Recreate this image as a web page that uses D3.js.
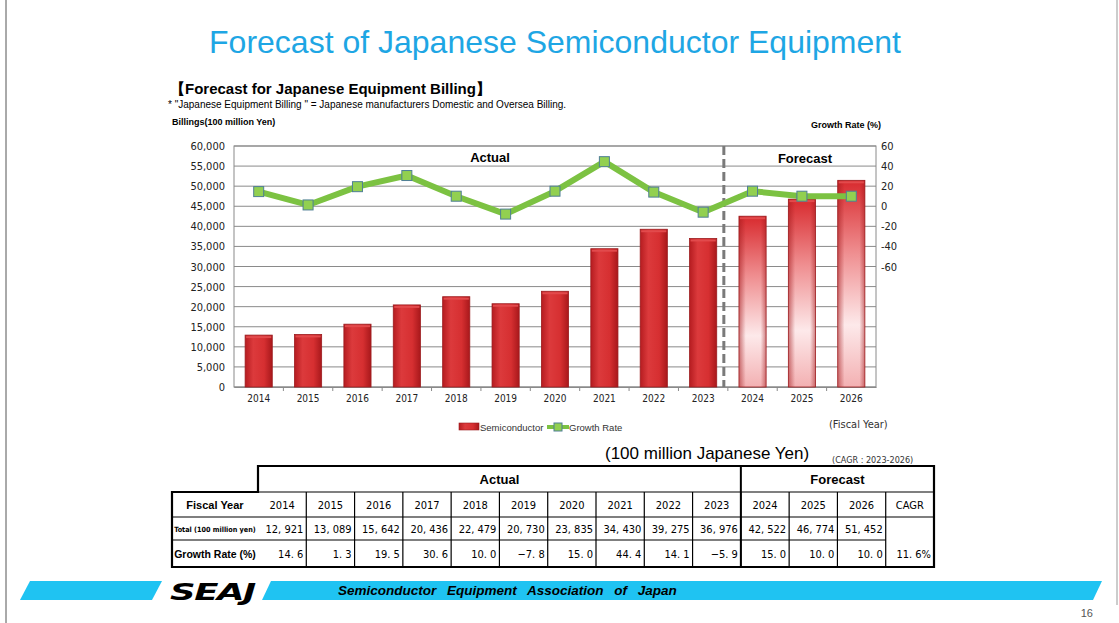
<!DOCTYPE html>
<html>
<head>
<meta charset="utf-8">
<script src="https://cdnjs.cloudflare.com/ajax/libs/d3/7.8.5/d3.min.js"></script>
<style>
  body { margin: 0; background: #fff; }
  svg { display: block; font-family: 'Liberation Sans', Arial, sans-serif; }
  .narrow { font-family: 'Liberation Sans Narrow', 'DejaVu Sans Condensed', 'Liberation Sans', sans-serif; }
</style>
</head>
<body>
<div id="chart"></div>
<script>
// data
var years = ['2014', '2015', '2016', '2017', '2018', '2019', '2020', '2021', '2022', '2023', '2024', '2025', '2026']
var billing = [12921, 13089, 15642, 20436, 22479, 20730, 23835, 34430, 39275, 36976, 42522, 46774, 51452]
var growth = [14.6, 1.3, 19.5, 30.6, 10.0, -7.8, 15.0, 44.4, 14.1, -5.9, 15.0, 10.0, 10.0]
var firstForecast = '2024'
var cagr = 11.6
var leftTicks = [0, 5000, 10000, 15000, 20000, 25000, 30000, 35000, 40000, 45000, 50000, 55000, 60000]
var rightTicks = [-60, -40, -20, 0, 20, 40, 60]

var W = 1119, H = 623
var plot = { left: 234, right: 876, top: 146, bottom: 387 }

var svg = d3.select('#chart').append('svg')
    .attr('width', W)
    .attr('height', H)

// gradients
var defs = svg.append('defs')
var gActual = defs.append('linearGradient').attr('id', 'gActual')
    .attr('x1', 0).attr('x2', 1).attr('y1', 0).attr('y2', 0)
gActual.append('stop').attr('offset', '0%').attr('stop-color', '#b51c20')
gActual.append('stop').attr('offset', '30%').attr('stop-color', '#dc3a3c')
gActual.append('stop').attr('offset', '70%').attr('stop-color', '#d62f31')
gActual.append('stop').attr('offset', '100%').attr('stop-color', '#a8181b')

var gFore = defs.append('linearGradient').attr('id', 'gFore')
    .attr('x1', 0).attr('x2', 0).attr('y1', 0).attr('y2', 1)
gFore.append('stop').attr('offset', '0%').attr('stop-color', '#d82a2e')
gFore.append('stop').attr('offset', '35%').attr('stop-color', '#ef8e90')
gFore.append('stop').attr('offset', '70%').attr('stop-color', '#fde9ea')
gFore.append('stop').attr('offset', '100%').attr('stop-color', '#f3b0b2')

var gEdge = defs.append('linearGradient').attr('id', 'gEdge')
    .attr('x1', 0).attr('x2', 1).attr('y1', 0).attr('y2', 0)
gEdge.append('stop').attr('offset', '0%').attr('stop-color', '#a0181b').attr('stop-opacity', 0.55)
gEdge.append('stop').attr('offset', '25%').attr('stop-color', '#a0181b').attr('stop-opacity', 0)
gEdge.append('stop').attr('offset', '80%').attr('stop-color', '#a0181b').attr('stop-opacity', 0)
gEdge.append('stop').attr('offset', '100%').attr('stop-color', '#a0181b').attr('stop-opacity', 0.5)

// page frame lines
svg.append('line').attr('x1', 6).attr('x2', 6).attr('y1', 0).attr('y2', H)
    .attr('stroke', '#555').attr('stroke-width', 1)
svg.append('line').attr('x1', 1117).attr('x2', 1117).attr('y1', 0).attr('y2', 605)
    .attr('stroke', '#999').attr('stroke-width', 1)

// title
svg.append('text')
    .attr('x', 555).attr('y', 53)
    .attr('text-anchor', 'middle')
    .attr('font-size', 32)
    .attr('fill', '#1ea6e4')
    .text('Forecast of Japanese Semiconductor Equipment')

svg.append('text')
    .attr('x', 170).attr('y', 94)
    .attr('font-size', 15).attr('font-weight', 'bold')
    .text('【Forecast for Japanese Equipment Billing】')

svg.append('text')
    .attr('x', 168).attr('y', 108)
    .attr('font-size', 10)
    .text('* "Japanese Equipment Billing " = Japanese manufacturers Domestic and Oversea Billing.')

svg.append('text')
    .attr('x', 172).attr('y', 125)
    .attr('font-size', 9).attr('font-weight', 'bold')
    .text('Billings(100 million Yen)')

svg.append('text')
    .attr('x', 881).attr('y', 128)
    .attr('text-anchor', 'end')
    .attr('font-size', 9).attr('font-weight', 'bold')
    .text('Growth Rate (%)')

// scales
var x = d3.scaleBand().domain(years)
    .range([plot.left, plot.right])
    .paddingInner(0.45).paddingOuter(0.225)
var y = d3.scaleLinear().domain([0, 60000]).range([plot.bottom, plot.top])
var y2 = d3.scaleLinear().domain([-180, 60]).range([plot.bottom, plot.top])

// gridlines
svg.append('g')
    .selectAll('line')
    .data(leftTicks)
    .enter().append('line')
    .attr('x1', plot.left).attr('x2', plot.right)
    .attr('y1', d => y(d)).attr('y2', d => y(d))
    .attr('stroke', '#8a8a8a').attr('stroke-width', 1)

svg.append('rect')
    .attr('x', plot.left).attr('y', plot.top)
    .attr('width', plot.right - plot.left).attr('height', plot.bottom - plot.top)
    .attr('fill', 'none').attr('stroke', '#8a8a8a')

// left axis
var axL = svg.append('g')
    .attr('transform', `translate(${plot.left}, 0)`)
    .call(d3.axisLeft(y).tickValues(leftTicks).tickSize(0).tickPadding(9).tickFormat(d3.format(',')))
axL.select('.domain').remove()
axL.selectAll('text').attr('font-size', 11).attr('fill', '#222')
    .attr('font-family', "'DejaVu Sans Condensed', 'Liberation Sans', sans-serif")

// right axis
var axR = svg.append('g')
    .attr('transform', `translate(${plot.right}, 0)`)
    .call(d3.axisRight(y2).tickValues(rightTicks).tickSize(0).tickPadding(5).tickFormat(d => String(d)))
axR.select('.domain').remove()
axR.selectAll('text').attr('font-size', 11).attr('fill', '#222')
    .attr('font-family', "'DejaVu Sans Condensed', 'Liberation Sans', sans-serif")

// bottom axis with category ticks
var axB = svg.append('g')
    .attr('transform', `translate(0, ${plot.bottom})`)
    .call(d3.axisBottom(x).tickSize(0).tickPadding(8))
axB.select('.domain').attr('stroke', '#8a8a8a')
axB.selectAll('text').attr('font-size', 10).attr('fill', '#222').attr('class', 'narrow')
svg.append('g')
    .selectAll('line')
    .data(years.slice(1))
    .enter().append('line')
    .attr('x1', d => x(d) - x.step() * x.paddingInner() / 2)
    .attr('x2', d => x(d) - x.step() * x.paddingInner() / 2)
    .attr('y1', plot.bottom).attr('y2', plot.bottom + 4)
    .attr('stroke', '#8a8a8a')

// bars
var isFore = d => years.indexOf(d) >= years.indexOf(firstForecast)
var bars = svg.append('g')
bars.selectAll('rect.bar')
    .data(years)
    .enter().append('rect')
    .attr('class', 'bar')
    .attr('x', d => x(d))
    .attr('y', (d, i) => y(billing[i]))
    .attr('width', x.bandwidth())
    .attr('height', (d, i) => y(0) - y(billing[i]))
    .attr('fill', d => isFore(d) ? 'url(#gFore)' : 'url(#gActual)')
    .attr('stroke', '#9c1c1f').attr('stroke-width', 0.8)
bars.selectAll('rect.edge')
    .data(years.filter(isFore))
    .enter().append('rect')
    .attr('class', 'edge')
    .attr('x', d => x(d))
    .attr('y', d => y(billing[years.indexOf(d)]))
    .attr('width', x.bandwidth())
    .attr('height', d => y(0) - y(billing[years.indexOf(d)]))
    .attr('fill', 'url(#gEdge)')
bars.selectAll('rect.cap')
    .data(years)
    .enter().append('rect')
    .attr('class', 'cap')
    .attr('x', d => x(d) + 1)
    .attr('y', (d, i) => y(billing[i]) + 1)
    .attr('width', x.bandwidth() - 2)
    .attr('height', 2)
    .attr('fill', '#e24a4c')

// forecast divider
var divX = x(firstForecast) - x.step() * x.paddingInner() / 2 - 4
svg.append('line')
    .attr('x1', divX).attr('x2', divX)
    .attr('y1', plot.top).attr('y2', plot.bottom)
    .attr('stroke', '#7a7a7a').attr('stroke-width', 3)
    .attr('stroke-dasharray', '9,4')

svg.append('text')
    .attr('x', 490).attr('y', 162)
    .attr('text-anchor', 'middle')
    .attr('font-size', 13).attr('font-weight', 'bold')
    .text('Actual')
svg.append('text')
    .attr('x', 805).attr('y', 163)
    .attr('text-anchor', 'middle')
    .attr('font-size', 13).attr('font-weight', 'bold')
    .text('Forecast')

// growth line
var line = d3.line()
    .x((d, i) => x(years[i]) + x.bandwidth() / 2)
    .y(d => y2(d))
svg.append('path')
    .datum(growth)
    .attr('d', line)
    .attr('fill', 'none')
    .attr('stroke', '#7cc242').attr('stroke-width', 6)
    .attr('stroke-linejoin', 'round')
svg.append('g')
    .selectAll('rect')
    .data(growth)
    .enter().append('rect')
    .attr('x', (d, i) => x(years[i]) + x.bandwidth() / 2 - 5)
    .attr('y', d => y2(d) - 5)
    .attr('width', 10).attr('height', 10)
    .attr('fill', '#92d050')
    .attr('stroke', '#4f7f95').attr('stroke-width', 1)

// legend
svg.append('rect')
    .attr('x', 459).attr('y', 423).attr('width', 20).attr('height', 7)
    .attr('fill', 'url(#gActual)').attr('stroke', '#9c1c1f').attr('stroke-width', 0.6)
svg.append('text')
    .attr('x', 480).attr('y', 431).attr('font-size', 9.5).attr('fill', '#333')
    .text('Semiconductor')
svg.append('line')
    .attr('x1', 547).attr('x2', 569).attr('y1', 427).attr('y2', 427)
    .attr('stroke', '#7cc242').attr('stroke-width', 4)
svg.append('rect')
    .attr('x', 554).attr('y', 423).attr('width', 8).attr('height', 8)
    .attr('fill', '#92d050').attr('stroke', '#4f7f95')
svg.append('text')
    .attr('x', 569).attr('y', 431).attr('font-size', 9.5).attr('fill', '#333')
    .text('Growth Rate')
svg.append('text').attr('class', 'narrow')
    .attr('x', 829).attr('y', 428).attr('font-size', 11).attr('fill', '#333')
    .text('(Fiscal Year)')

svg.append('text')
    .attr('x', 605).attr('y', 459)
    .attr('font-size', 17)
    .text('(100 million Japanese Yen)')
svg.append('text').attr('class', 'narrow')
    .attr('x', 832).attr('y', 463)
    .attr('font-size', 9).attr('fill', '#333')
    .text('(CAGR : 2023-2026)')

// table
var tbl = { left: 172, first: 258, right: 934, rows: [466, 492, 517, 540, 567] }
var colW = (tbl.right - tbl.first) / (years.length + 1)
var cx = i => tbl.first + i * colW
var nFore = years.length - years.indexOf(firstForecast)
var splitX = cx(years.length - nFore)
var fmtNum = d => d3.format(',')(d).replace(',', ', ')
var fmtRate = d => d.toFixed(1).replace('.', '. ').replace('-', '−')
var t = svg.append('g')

// cell lines
var hLines = [
    [tbl.first, tbl.right, tbl.rows[1]],
    [tbl.left, tbl.right, tbl.rows[2]],
    [tbl.left, cx(years.length), tbl.rows[3]]
]
t.selectAll('line.h').data(hLines).enter().append('line')
    .attr('x1', d => d[0]).attr('x2', d => d[1])
    .attr('y1', d => d[2]).attr('y2', d => d[2])
    .attr('stroke', '#000').attr('stroke-width', 1.2)
t.selectAll('line.v').data(d3.range(1, years.length + 1)).enter().append('line')
    .attr('x1', d => cx(d)).attr('x2', d => cx(d))
    .attr('y1', tbl.rows[1]).attr('y2', tbl.rows[4])
    .attr('stroke', '#000').attr('stroke-width', 1.2)
t.append('line')
    .attr('x1', splitX).attr('x2', splitX)
    .attr('y1', tbl.rows[0]).attr('y2', tbl.rows[4])
    .attr('stroke', '#000').attr('stroke-width', 2)
// outer frame
t.append('path')
    .attr('d', `M${tbl.first},${tbl.rows[0]}H${tbl.right}V${tbl.rows[4]}H${tbl.left}V${tbl.rows[1]}H${tbl.first}Z`)
    .attr('fill', 'none').attr('stroke', '#000').attr('stroke-width', 2.2)

t.append('text')
    .attr('x', (tbl.first + splitX) / 2).attr('y', 484)
    .attr('text-anchor', 'middle').attr('font-size', 13).attr('font-weight', 'bold')
    .text('Actual')
t.append('text')
    .attr('x', (splitX + tbl.right) / 2).attr('y', 484)
    .attr('text-anchor', 'middle').attr('font-size', 13).attr('font-weight', 'bold')
    .text('Forecast')

t.append('text')
    .attr('x', (tbl.left + tbl.first) / 2).attr('y', 509)
    .attr('text-anchor', 'middle').attr('font-size', 11).attr('font-weight', 'bold')
    .text('Fiscal Year')
t.append('text')
    .attr('x', (tbl.left + tbl.first) / 2).attr('y', 532)
    .attr('text-anchor', 'middle').attr('font-size', 7.2).attr('font-weight', 'bold')
    .attr('class', 'narrow')
    .text('Total (100 million yen)')
t.append('text')
    .attr('x', (tbl.left + tbl.first) / 2).attr('y', 558)
    .attr('text-anchor', 'middle').attr('font-size', 10.5).attr('font-weight', 'bold')
    .text('Growth Rate (%)')

t.selectAll('text.yr').data(years.concat(['CAGR'])).enter().append('text')
    .attr('class', 'narrow')
    .attr('x', (d, i) => cx(i) + colW / 2).attr('y', 509)
    .attr('text-anchor', 'middle').attr('font-size', 11)
    .text(d => d)
t.selectAll('text.val').data(billing).enter().append('text')
    .attr('class', 'narrow')
    .attr('x', (d, i) => cx(i + 1) - 3).attr('y', 533)
    .attr('text-anchor', 'end').attr('font-size', 11)
    .text(fmtNum)
t.selectAll('text.gr').data(growth.concat([cagr])).enter().append('text')
    .attr('class', 'narrow')
    .attr('x', (d, i) => cx(i + 1) - 3).attr('y', 558)
    .attr('text-anchor', 'end').attr('font-size', 11)
    .text((d, i) => i === growth.length ? fmtRate(d) + '%' : fmtRate(d))

// footer band
var band = svg.append('g').attr('fill', '#1fc3f2')
band.append('path').attr('d', 'M30,581L162,581L152,600L20,600Z')
band.append('path').attr('d', 'M271,581L1102,581L1093,600L262,600Z')
svg.append('text')
    .attr('x', 0).attr('y', 0)
    .attr('font-size', 25).attr('font-weight', 'bold').attr('font-style', 'italic')
    .attr('letter-spacing', -1)
    .attr('font-family', "'DejaVu Sans', sans-serif")
    .attr('transform', 'translate(170,600) scale(1.42,0.95)')
    .text('SEAJ')
svg.append('text')
    .attr('x', 338).attr('y', 595)
    .attr('font-size', 13.5).attr('font-weight', 'bold').attr('font-style', 'italic')
    .attr('word-spacing', 7)
    .text('Semiconductor Equipment Association of Japan')
svg.append('text')
    .attr('x', 1093).attr('y', 617)
    .attr('text-anchor', 'end').attr('font-size', 11).attr('fill', '#555')
    .text('16')
</script>
</body>
</html>
